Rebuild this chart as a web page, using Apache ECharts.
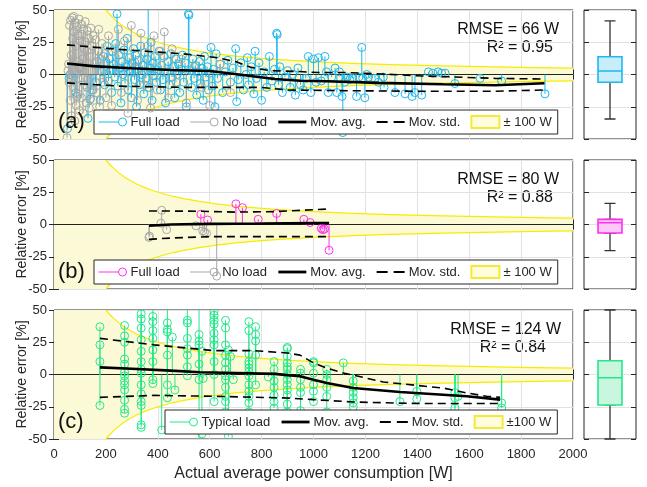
<!DOCTYPE html>
<html><head><meta charset="utf-8">
<script src="https://cdn.jsdelivr.net/npm/echarts@6/dist/echarts.min.js"></script>
<style>html,body{margin:0;padding:0;background:#fff}#c{width:647px;height:487px}</style>
</head><body><div id="c"></div>
<script>
// ---------------- DATA ----------------
const xTicks = [0,200,400,600,800,1000,1200,1400,1600,1800,2000];
const yTicks = [-50,-25,0,25,50];
const bandWatts = 100; // ±100 W band
const bandX = [0,200,215,230,250,270,290,320,350,380,420,460,500,560,620,700,800,900,1000,1150,1300,1500,1700,1850,2000];

// Panel (a)
const fullLoadA = [[52,-42],[58,-3],[62,0],[84,-14],[88,-17],[92,-3],[96,5],[128,-10],[131,-34],[140,-19],[150,-12],[160,-6],[165,10],[172,18],[178,-20],[185,2],[190,14],[195,-8],
[205,22],[210,-5],[214,12],[218,3],[222,-14],[226,18],[230,8],[234,-2],[238,24],[243,47],[246,-9],[250,15],[254,5],[258,-22],[262,10],[266,0],[270,19],[274,-7],[278,6],[282,28],[286,-12],[290,13],[294,2],[298,-18],[302,9],[306,20],[310,-4],[314,15],[318,-25],[322,4],[326,11],[330,-8],[334,22],[338,0],[342,7],[346,-15],[350,17],[354,-3],[358,12],[363,60],[366,-10],[370,5],[374,25],[378,-20],[382,9],[386,-1],[390,14],[394,-6],[398,3],
[405,18],[410,-12],[415,7],[420,-4],[425,14],[430,-22],[435,2],[440,10],[445,-8],[450,16],[455,-2],[460,6],[465,-18],[470,12],[475,0],[480,8],[485,-14],[490,4],[495,15],[500,-6],[505,9],[510,-25],[518,47],[520,46],[525,3],[530,-10],[535,12],[540,-3],[545,7],[550,-16],[555,2],[560,10],[565,-7],[570,5],[575,-20],[580,14],[585,-2],[590,6],[595,-12],[600,1],
[605,21],[610,-9],[615,4],[620,-25],[625,16],[630,-3],[640,8],[650,-14],[660,2],[670,11],[680,-6],[690,5],[700,20],[704,-21],[710,-4],[720,9],[730,-12],[740,0],[745,13],[750,-8],[760,6],[770,-15],[775,18],[780,-3],[790,9],[800,-20],[810,2],[820,-10],[830,14],[840,-5],[850,4],[858,32],[860,31],[865,-8],[870,6],[880,-14],[890,-2],[900,3],
[910,-10],[920,0],[930,-16],[940,5],[950,-8],[960,-12],[970,-3],[980,14],[990,-14],[1000,12],[1010,-6],[1019,13],[1030,-5],[1044,14],[1050,2],[1057,-14],[1070,-2],[1083,5],[1090,-14],[1100,2],[1110,-17],[1113,-45],[1120,-6],[1130,-2],[1140,-4],[1150,-3],[1166,-17],[1175,-2],[1186,21],[1190,-3],[1198,-18],[1205,0],
[1212,-2],[1237,-3],[1250,-6],[1269,-2],[1272,-10],[1314,-14],[1353,-15],[1380,-17],[1391,-14],[1417,-16],[1443,2],[1460,1],[1480,2],[1494,1],[1507,1],[1545,-7],[1642,-3],[1725,-5],[1892,-15]];

const noLoadA = [[50,-49],[54,3],[56,8],[58,-6],[60,38],[62,-20],[64,42],[66,15],[68,-32],[70,44],[72,28],[74,-10],[76,45],[78,33],[80,-36],[82,40],[84,22],[86,-24],[88,37],[90,10],[92,-15],[94,30],[96,43],[98,-28],[100,26],[102,5],[104,39],[106,-18],[108,31],[110,12],[112,-30],[114,35],[116,20],[118,-8],[120,41],[122,25],[124,-22],[126,18],[128,34],[130,-4],[133,28],[136,-26],[139,14],[142,36],[145,-12],[148,22],[151,30],[154,-20],[157,8],[160,27],[164,-14],[168,18],[172,35],[176,-25],[180,12],[185,24],[190,-6],[195,16],[200,-18],
[210,30],[222,-24],[235,20],[248,35],[260,-14],[272,26],[285,-30],[298,38],[310,10],[322,-20],[335,32],[348,-8],[360,22],[372,-26],[385,30],[398,-12],[410,18],[425,33],[440,-18],[455,20],[470,-6],[490,12],[510,-22],[540,6],[570,-10],[600,-24],[640,8],[680,-14]];

const movAvgA = [[50,8.5],[150,6.5],[300,4.8],[450,3.5],[600,2.7],[650,1.5],[750,-1],[850,-3.5],[950,-4.8],[1050,-5.2],[1250,-6.5],[1500,-7.6],[1700,-8.3],[1890,-6.8]];
const movStdUpA = [[50,23],[250,19.5],[500,16],[630,13],[700,10],[760,5.5],[830,3],[930,2.4],[1020,1.5],[1130,1.5],[1260,0.4],[1390,-0.9],[1520,-1.8],[1700,-3],[1890,-3.5]];
const movStdLoA = [[50,-6.5],[250,-9],[500,-10],[800,-10],[900,-12],[1100,-12.5],[1400,-13],[1700,-13],[1890,-12]];
const boxA = [-34.5, -6, 2.7, 13.8, 41.5]; // min, Q1, median, Q3, max

// Panel (b)
const fullLoadB = [[566,8],[592,3.5],[701,16],[726,13],[787,4],[858,8.5],[963,4],[987,1.5],[1030,-3],[1036,-4],[1042,-3.5],[1060,-20]];
const noLoadB = [[366,-10],[368,-9],[412,1],[415,11],[434,-4],[547,-1],[573,-5],[580,-6],[588,-7],[627,-40]];
const movAvgB = [[366,-1],[450,0],[600,0.5],[800,0.8],[1000,1.2],[1060,1.2]];
const movStdUpB = [[366,10.5],[550,10.3],[700,9.6],[850,10],[1000,11.5],[1060,12]];
const movStdLoB = [[366,-11.5],[450,-10.5],[600,-9.4],[800,-9.4],[1060,-9.4]];
const boxB = [-20.3, -6.6, 1.4, 4, 16.4];

// Panel (c)
const typicalLoadC = [[177,37],[177,23],[177,10],[177,-24],
[272,38],[272,30],[272,25],[272,12],[272,8],[272,2],[272,-1],[272,-5],[272,-8],[272,-12],[272,-20],[272,-27],[272,-30],
[336,55],[336,47],[336,43],[336,36],[336,27],[336,18],[336,10],[336,4],[336,1],[336,-8],[336,-15],[336,-21],[336,-24],[336,-39],[336,-41],
[381,55],[381,45],[381,41],[381,34],[381,28],[381,19],[381,10],[381,-4],[381,-7],[415,-43],
[437,55],[437,40],[437,35],[437,33],[437,15],[437,-8],[437,-18],[456,29],[466,-12],
[514,55],[514,42],[514,40],[514,28],[514,20],[514,15],[514,6],[514,-1],
[559,55],[559,31],[559,26],[559,23],[559,8],[559,-4],[559,-55],[570,-46],[570,18],[575,-3],
[617,55],[617,49],[617,46],[617,42],[617,39],[617,32],[617,27],[617,23],[617,10],[617,0],[617,-21],
[661,42],[661,36],[661,23],[661,15],[661,9],[661,4],[661,-1],[661,-4],[661,-10],[661,-17],[661,-21],[661,-29],[672,-48],[672,19],[680,14],[691,-4],
[751,41],[751,34],[751,16],[751,10],[751,8],[751,5],[751,2],[751,-1],[751,-8],[751,-13],[751,-17],[751,-22],[751,-29],
[777,37],[777,31],[777,26],[777,15],[777,-8],[826,-2],
[848,10],[848,4],[848,-5],[848,-10],[848,-16],[848,-21],[848,-26],
[899,21],[899,20],[899,14],[899,9],[899,6],[899,4],[899,0],[899,-4],[899,-8],[899,-12],[899,-16],[899,-23],[899,-29],[899,-34],
[950,4],[950,1],[950,-4],[950,-10],[950,-14],[950,-28],
[1000,10],[1000,9],[1000,1],[1000,-8],[1000,-13],[1000,-21],
[1051,4],[1051,0],[1051,-4],[1051,-10],[1051,-17],[1051,-29],[1115,9],
[1153,-5],[1153,-10],[1153,-14],[1153,-18],[1153,-22],[1153,-25],
[1333,-21],[1398,-13],[1398,-19],
[1545,-14],[1545,-18],[1545,-26],[1545,-40],[1557,-17],[1725,-22],[1725,-26]];
const movAvgC = [[177,5.5],[300,4.5],[450,3],[563,1.7],[700,1.2],[850,0.5],[900,-0.5],[948,-1.4],[1000,-4],[1051,-6.6],[1153,-10.5],[1333,-13.6],[1590,-16.9],[1719,-19.5]];
const movStdUpC = [[177,28],[385,23],[617,18.5],[771,18.5],[899,16.7],[948,15],[1000,9],[1051,5],[1115,1.2],[1269,-5.8],[1400,-8.5],[1500,-10.5],[1590,-14.3],[1667,-16.9],[1719,-17.7]];
const movStdLoC = [[177,-17.7],[385,-16.2],[617,-16.9],[899,-18.2],[1000,-19.5],[1153,-21.3],[1400,-22.5],[1719,-22.5]];
const boxC = [-50, -23.6, -2.5, 10.7, 50];

const statsText = [['RMSE = 66 W','R² = 0.95'],['RMSE = 80 W','R² = 0.88'],['RMSE = 124 W','R² = 0.84']];
const panelLabels = ['(a)','(b)','(c)'];

// ---------------- STYLE / LAYOUT ----------------
const FONT = '"Liberation Sans", Arial, Helvetica, sans-serif';
const AX = '#262626';
const BLUE = '#1fb8ef', GRAY = '#a8a8a8', MAG = '#ff30f0', GREEN = '#25e88c';
const tops = [10, 160, 310];
const H = 129;
const STEM_ICON = 'path://M0,6 L20,6 M28,6 A4,4 0 1 1 20,6 A4,4 0 1 1 28,6 Z';

const chart = echarts.init(document.getElementById('c'), null, {renderer:'canvas'});

const grids = [], xAxes = [], yAxes = [], series = [], legends = [], graphics = [];
tops.forEach(t => grids.push({left:54, top:t, width:519, height:H, show:true, borderColor:AX, borderWidth:1, backgroundColor:'transparent'}));
tops.forEach(t => grids.push({left:584, top:t, width:52, height:H, show:true, borderColor:AX, borderWidth:1, backgroundColor:'transparent'}));

const tickStyle = {show:true, inside:true, length:5, lineStyle:{color:AX, width:1}};
const splitStyle = {show:true, lineStyle:{color:'#e2e2e2', width:1}};
function yLabelFmt(v){ return yTicks.includes(v) ? String(v) : ''; }

for (let i=0;i<3;i++){
  xAxes.push({type:'value', gridIndex:i, min:xTicks[0], max:xTicks[xTicks.length-1], interval:xTicks[1]-xTicks[0],
    axisLine:{show:false}, axisTick:tickStyle, splitLine:splitStyle,
    axisLabel:{show:i===2, color:AX, fontSize:13, fontFamily:FONT, margin:9, formatter: v => String(v)},
    name: i===2 ? 'Actual average power consumption [W]' : '', nameLocation:'middle', nameGap:27, nameMoveOverlap:false,
    nameTextStyle:{color:AX, fontSize:16, fontFamily:FONT}});
  yAxes.push({type:'value', gridIndex:i, min:-50, max:50, interval:25,
    axisLine:{show:false}, axisTick:tickStyle, splitLine:splitStyle,
    axisLabel:{color:AX, fontSize:13, fontFamily:FONT, margin:7, formatter:yLabelFmt},
    name:'Relative error [%]', nameLocation:'middle', nameGap:25, nameMoveOverlap:false,
    nameTextStyle:{color:AX, fontSize:14, fontFamily:FONT}});
}
for (let i=0;i<3;i++){
  xAxes.push({type:'category', gridIndex:3+i, data:[''], axisLine:{show:false}, axisTick:{show:false}, axisLabel:{show:false}, splitLine:{show:false}});
  yAxes.push({type:'value', gridIndex:3+i, min:-50, max:50, interval:25, axisLine:{show:false}, axisTick:tickStyle, splitLine:splitStyle, axisLabel:{show:false}});
}
for (let i=0;i<3;i++){
  xAxes.push({type:'value', gridIndex:i, position:'top', min:0, max:2000, interval:200, axisLine:{show:false}, axisTick:tickStyle, splitLine:{show:false}, axisLabel:{show:false}});
}
for (let i=0;i<6;i++){
  yAxes.push({type:'value', gridIndex:i, position:'right', min:-50, max:50, interval:25, axisLine:{show:false}, axisTick:tickStyle, splitLine:{show:false}, axisLabel:{show:false}});
}
for (let i=0;i<3;i++){
  xAxes.push({type:'category', gridIndex:3+i, data:[''], show:false});
}

function bandPct(x){ return x <= 0 ? 50 : Math.min(50, bandWatts / x * 100); }

function bandSeries(i){
  return {type:'custom', name:'band'+i, xAxisIndex:i, yAxisIndex:i, clip:true, z:1, silent:true, data:[[0,0]],
    renderItem:(params, api) => {
      const up = bandX.map(x => api.coord([x, bandPct(x)]));
      const lo = bandX.map(x => api.coord([x, -bandPct(x)]));
      const edgeX = bandX.filter(x => x >= 200);
      const upE = edgeX.map(x => api.coord([x, bandPct(x)]));
      const loE = edgeX.map(x => api.coord([x, -bandPct(x)]));
      return {type:'group', children:[
        {type:'polygon', shape:{points: up.concat(lo.slice().reverse())}, style:{fill:'#fcf9d6', stroke:null}},
        {type:'polyline', shape:{points:upE}, style:{stroke:'#f6ec00', lineWidth:1.2, fill:null}},
        {type:'polyline', shape:{points:loE}, style:{stroke:'#f6ec00', lineWidth:1.2, fill:null}}
      ]};
    }};
}

function stemSeries(name, data, color, i, z){
  return {type:'custom', name, xAxisIndex:i, yAxisIndex:i, clip:true, z, silent:true, data, encode:{x:0, y:1},
    renderItem:(params, api) => {
      const x = api.value(0), y = api.value(1);
      const p0 = api.coord([x, 0]), p1 = api.coord([x, y]);
      return {type:'group', children:[
        {type:'line', shape:{x1:p0[0], y1:p0[1], x2:p1[0], y2:p1[1]}, style:{stroke:color, lineWidth:1}},
        {type:'circle', shape:{cx:p1[0], cy:p1[1], r:4}, style:{fill:null, stroke:color, lineWidth:1}}
      ]};
    }};
}

function legendLine(name, color, i){
  return {type:'line', name, xAxisIndex:i, yAxisIndex:i, data:[], symbol:'emptyCircle', symbolSize:8,
    itemStyle:{color:color, borderColor:color}, lineStyle:{color:color, width:1}};
}

function lineSeries(name, data, i, dashed){
  return {type:'line', name, xAxisIndex:i, yAxisIndex:i, data, symbol:'none', silent:true, z:6, smooth:false,
    itemStyle:{color:'rgba(0,0,0,0)', borderColor:'rgba(0,0,0,0)', borderWidth:0},
    lineStyle:{color:'#000', width: dashed ? 1.6 : 2.6, type: dashed ? [8,5] : 'solid'}};
}

const panels = [
  {key:'a', stems:[['Full load', fullLoadA, BLUE], ['No load', noLoadA, GRAY]], avg:movAvgA, up:movStdUpA, lo:movStdLoA, box:boxA, fill:'#c9eefb', stroke:BLUE, band:'± 100 W', legendLeft:94},
  {key:'b', stems:[['Full load', fullLoadB, MAG], ['No load', noLoadB, GRAY]], avg:movAvgB, up:movStdUpB, lo:movStdLoB, box:boxB, fill:'#fcc8f8', stroke:MAG, band:'± 100 W', legendLeft:94},
  {key:'c', stems:[['Typical load', typicalLoadC, GREEN]], avg:movAvgC, up:movStdUpC, lo:movStdLoC, box:boxC, fill:'#c9f6de', stroke:GREEN, band:'±100 W', legendLeft:165}
];

panels.forEach((p, i) => {
  const legendData = [];
  p.stems.forEach(s => {
    series.push(legendLine(s[0]+'#'+p.key, s[2], i));
    legendData.push({name:s[0]+'#'+p.key, icon:STEM_ICON, itemStyle:{color:'rgba(0,0,0,0)', borderColor:s[2], borderWidth:1}});
  });
  series.push(bandSeries(i));
  p.stems.forEach((s, k) => series.push(stemSeries('stem'+p.key+k, s[1], s[2], i, 3+k)));
  series.push({type:'line', name:'zero'+p.key, xAxisIndex:i, yAxisIndex:i, data:[[0,0],[2000,0]], symbol:'none', silent:true, z:2,
    lineStyle:{color:'#222', width:1}});
  series.push(lineSeries('Mov. avg.#'+p.key, p.avg, i, false));
  series.push(lineSeries('Mov. std.#'+p.key, p.up, i, true));
  series.push(lineSeries('Mov. std.#'+p.key, p.lo, i, true));
  series.push({type:'scatter', name:p.band+'#'+p.key, xAxisIndex:i, yAxisIndex:i, data:[],
    itemStyle:{color:'#fffbd8', borderColor:'#f2e600', borderWidth:1.2}});
  legendData.push({name:'Mov. avg.#'+p.key, lineStyle:{width:2.8, color:'#000'}},
                  {name:'Mov. std.#'+p.key, lineStyle:{width:1.8, color:'#000', type:[11,6]}},
                  {name:p.band+'#'+p.key, icon:'rect'});
  legends.push({left:p.legendLeft, top:tops[i]+100, orient:'horizontal', data:legendData,
    formatter: n => n.split('#')[0], selectedMode:false,
    backgroundColor:'#fff', borderColor:AX, borderWidth:1, borderRadius:0, padding:[5,6,5,4],
    itemWidth:28, itemHeight:12, itemGap:10,
    textStyle:{color:AX, fontSize:13, fontFamily:FONT, padding:[0,0,0,-1]}});
  const b = p.box;
  // whiskers (narrow caps) drawn by a thin black boxplot, then the coloured box on top
  series.push({type:'boxplot', name:'boxw'+p.key, xAxisIndex:3+i, yAxisIndex:3+i, data:[b], boxWidth:[11,11], silent:true,
    itemStyle:{color:p.fill, borderColor:'#333', borderWidth:1.3}});
  series.push({type:'boxplot', name:'boxc'+p.key, xAxisIndex:9+i, yAxisIndex:3+i, data:[[b[1],b[1],b[2],b[3],b[3]]], boxWidth:[24,24], silent:true, z:3,
    itemStyle:{color:p.fill, borderColor:p.stroke, borderWidth:1.6}});
  graphics.push({type:'text', right: i===2 ? 86 : 88, top: tops[i]+12, style:{text:statsText[i][0], font:'16px '+FONT, fill:'#111'}});
  graphics.push({type:'text', right: i===2 ? 101 : 94, top: tops[i]+30, style:{text:statsText[i][1], font:'16px '+FONT, fill:'#111'}});
  graphics.push({type:'text', left:58, top:tops[i]+101, z:100, style:{text:panelLabels[i], font:'22px '+FONT, fill:'#111'}});
});

chart.setOption({
  animation:false,
  backgroundColor:'#fff',
  grid:grids, xAxis:xAxes, yAxis:yAxes, series, legend:legends, graphic:graphics
});
</script></body></html>
